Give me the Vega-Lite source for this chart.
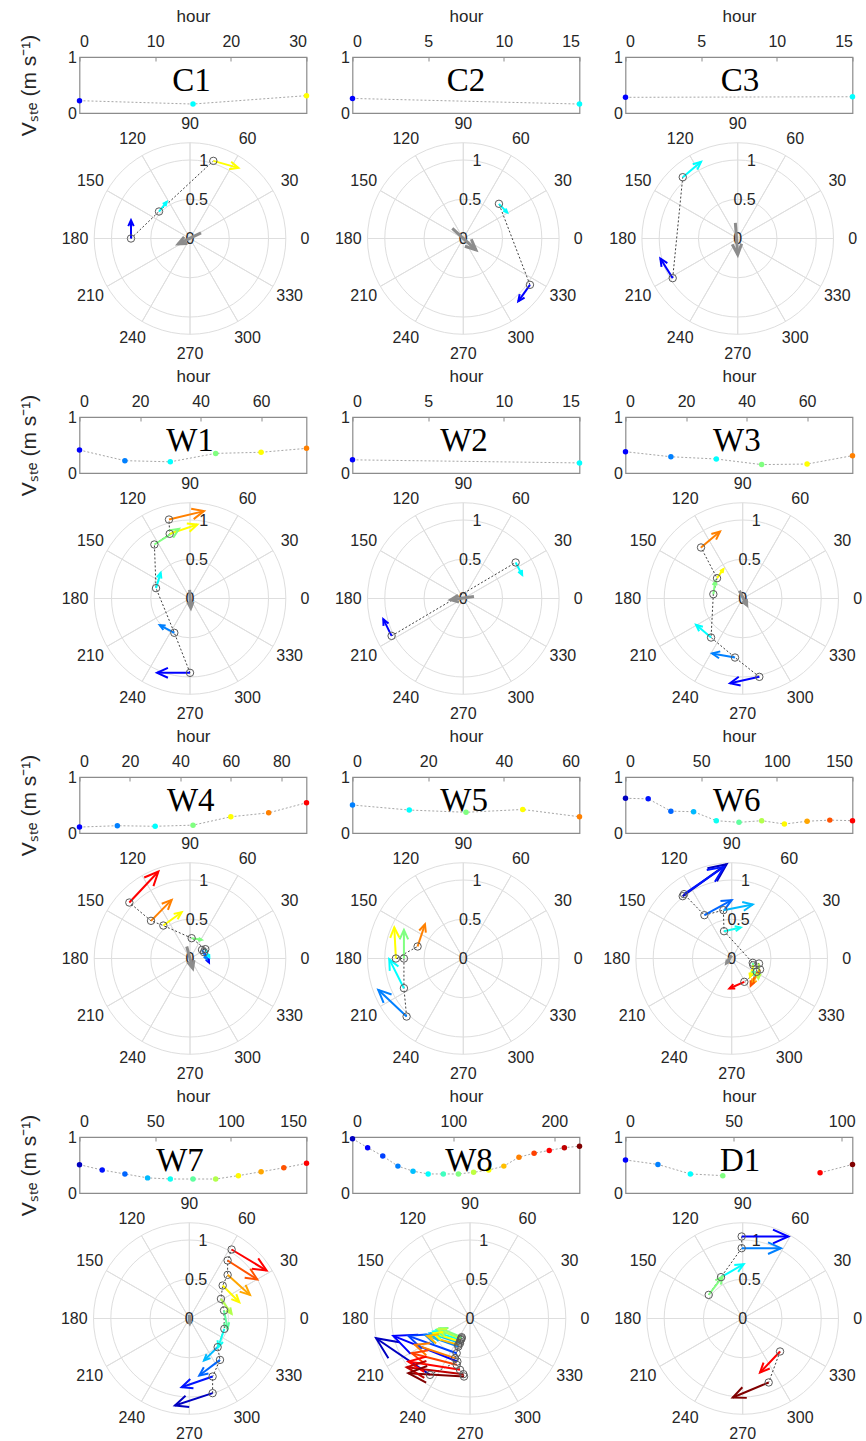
{
"$schema":"https://vega.github.io/schema/vega-lite/v6.json",
"background":"white",
"padding":{"left":17.5,"top":6,"right":0,"bottom":0},
"config":{"font":"Liberation Sans","view":{"stroke":null},"legend":{"disable":true},
"axis":{"domain":false,"grid":false,"labelFont":"Liberation Sans","labelFontSize":16,"labelColor":"#262626","titleFont":"Liberation Sans","titleFontSize":17,"titleFontWeight":"normal","titleColor":"#262626","tickColor":"#8c8c8c","tickSize":-4},
"axisX":{"labelPadding":12,"titlePadding":8},
"axisY":{"labelPadding":7},
"text":{"font":"Liberation Sans","fontSize":16,"color":"#262626"}},
"datasets":{
"deg":[{"d":0},{"d":30},{"d":60},{"d":90},{"d":120},{"d":150},{"d":180},{"d":210},{"d":240},{"d":270},{"d":300},{"d":330}],
"ring":[{"r":0.5},{"r":1},{"r":1.22}],
"rlab":[{"r":0,"t":"0"},{"r":0.5,"t":"0.5"},{"r":1,"t":"1"}],
"C1":[{"h":0,"v":0.22,"c":2,"x":-0.752,"y":0,"x2":-0.752,"y2":0.234,"dir":90,"m":0.234},{"h":15,"v":0.16,"c":6,"x":-0.395,"y":0.344,"x2":-0.297,"y2":0.467,"dir":51.5,"m":0.157},{"h":30,"v":0.31,"c":10,"x":0.297,"y":0.989,"x2":0.616,"y2":0.9,"dir":344.4,"m":0.331}],
"C2":[{"h":0,"v":0.26,"c":2,"x":0.849,"y":-0.59,"x2":0.7,"y2":-0.8,"dir":234.6,"m":0.257},{"h":15,"v":0.16,"c":6,"x":0.454,"y":0.442,"x2":0.56,"y2":0.33,"dir":313.4,"m":0.154}],
"C3":[{"h":0,"v":0.28,"c":2,"x":-0.828,"y":-0.505,"x2":-0.985,"y2":-0.255,"dir":122.1,"m":0.295},{"h":15,"v":0.29,"c":6,"x":-0.7,"y":0.781,"x2":-0.467,"y2":0.977,"dir":40.1,"m":0.304}],
"W1":[{"h":0,"v":0.41,"c":2,"x":0,"y":-0.947,"x2":-0.42,"y2":-0.947,"dir":180,"m":0.42},{"h":15,"v":0.22,"c":4,"x":-0.2,"y":-0.437,"x2":-0.386,"y2":-0.34,"dir":152.5,"m":0.21},{"h":30,"v":0.2,"c":6,"x":-0.433,"y":0.132,"x2":-0.374,"y2":0.327,"dir":73.2,"m":0.204},{"h":45,"v":0.35,"c":8,"x":-0.454,"y":0.688,"x2":-0.14,"y2":0.887,"dir":32.4,"m":0.372},{"h":60,"v":0.37,"c":10,"x":-0.259,"y":0.824,"x2":0.093,"y2":0.943,"dir":18.7,"m":0.372},{"h":75,"v":0.44,"c":12,"x":-0.268,"y":1.006,"x2":0.178,"y2":1.113,"dir":13.5,"m":0.459}],
"W2":[{"h":0,"v":0.235,"c":2,"x":-0.913,"y":-0.476,"x2":-1.019,"y2":-0.263,"dir":116.5,"m":0.238},{"h":15,"v":0.18,"c":6,"x":0.667,"y":0.459,"x2":0.75,"y2":0.3,"dir":297.6,"m":0.179}],
"W3":[{"h":0,"v":0.38,"c":2,"x":0.212,"y":-0.998,"x2":-0.161,"y2":-1.079,"dir":192.3,"m":0.382},{"h":15,"v":0.29,"c":4,"x":-0.098,"y":-0.752,"x2":-0.39,"y2":-0.7,"dir":169.9,"m":0.297},{"h":30,"v":0.25,"c":6,"x":-0.403,"y":-0.497,"x2":-0.594,"y2":-0.335,"dir":139.7,"m":0.25},{"h":45,"v":0.15,"c":8,"x":-0.374,"y":0.055,"x2":-0.348,"y2":0.225,"dir":81.3,"m":0.172},{"h":60,"v":0.16,"c":10,"x":-0.327,"y":0.259,"x2":-0.246,"y2":0.374,"dir":54.8,"m":0.141},{"h":75,"v":0.31,"c":12,"x":-0.531,"y":0.65,"x2":-0.289,"y2":0.854,"dir":40.1,"m":0.317}],
"W4":[{"h":0,"v":0.106,"c":2,"x":0.178,"y":0.081,"x2":0.242,"y2":-0.051,"dir":295.9,"m":0.147},{"h":15,"v":0.13,"c":4,"x":0.153,"y":0.11,"x2":0.212,"y2":-0.008,"dir":296.6,"m":0.132},{"h":30,"v":0.12,"c":6,"x":0.195,"y":0.119,"x2":0.246,"y2":0.017,"dir":296.6,"m":0.114},{"h":45,"v":0.14,"c":8,"x":0.021,"y":0.259,"x2":0.149,"y2":0.238,"dir":350.7,"m":0.13},{"h":60,"v":0.29,"c":10,"x":-0.34,"y":0.42,"x2":-0.106,"y2":0.59,"dir":36,"m":0.289},{"h":75,"v":0.36,"c":12,"x":-0.497,"y":0.48,"x2":-0.234,"y2":0.747,"dir":45.4,"m":0.375},{"h":90,"v":0.54,"c":14,"x":-0.773,"y":0.713,"x2":-0.403,"y2":1.108,"dir":46.9,"m":0.541}],
"W5":[{"h":0,"v":0.5,"c":4,"x":-0.722,"y":-0.739,"x2":-1.083,"y2":-0.399,"dir":136.7,"m":0.496},{"h":15,"v":0.41,"c":6,"x":-0.756,"y":-0.378,"x2":-0.943,"y2":-0.008,"dir":116.8,"m":0.415},{"h":30,"v":0.37,"c":8,"x":-0.756,"y":0,"x2":-0.756,"y2":0.365,"dir":90,"m":0.365},{"h":45,"v":0.42,"c":10,"x":-0.858,"y":0,"x2":-0.879,"y2":0.395,"dir":93,"m":0.396},{"h":60,"v":0.29,"c":12,"x":-0.582,"y":0.153,"x2":-0.488,"y2":0.437,"dir":71.7,"m":0.299}],
"W6":[{"h":0,"v":0.62,"c":1,"x":-0.624,"y":0.794,"x2":-0.064,"y2":1.202,"dir":36.1,"m":0.693},{"h":15,"v":0.61,"c":2.3,"x":-0.607,"y":0.82,"x2":-0.098,"y2":1.168,"dir":34.4,"m":0.617},{"h":30,"v":0.39,"c":3.6,"x":-0.348,"y":0.552,"x2":0,"y2":0.743,"dir":28.8,"m":0.397},{"h":45,"v":0.38,"c":4.9,"x":-0.106,"y":0.616,"x2":0.268,"y2":0.688,"dir":10.9,"m":0.381},{"h":60,"v":0.22,"c":6.2,"x":-0.098,"y":0.348,"x2":0.115,"y2":0.395,"dir":12.4,"m":0.218},{"h":75,"v":0.19,"c":7.5,"x":0.268,"y":-0.055,"x2":0.285,"y2":-0.212,"dir":276.2,"m":0.158},{"h":90,"v":0.22,"c":8.8,"x":0.348,"y":-0.064,"x2":0.34,"y2":-0.255,"dir":267.6,"m":0.191},{"h":105,"v":0.16,"c":10.1,"x":0.276,"y":-0.085,"x2":0.234,"y2":-0.234,"dir":254.3,"m":0.155},{"h":120,"v":0.21,"c":11.4,"x":0.361,"y":-0.14,"x2":0.255,"y2":-0.331,"dir":241,"m":0.218},{"h":135,"v":0.23,"c":12.7,"x":0.318,"y":-0.17,"x2":0.242,"y2":-0.348,"dir":246.9,"m":0.194},{"h":150,"v":0.22,"c":14,"x":0.161,"y":-0.297,"x2":-0.03,"y2":-0.382,"dir":204,"m":0.209}],
"W7":[{"h":0,"v":0.506,"c":1,"x":0.297,"y":-0.951,"x2":-0.183,"y2":-1.108,"dir":198.1,"m":0.505},{"h":15,"v":0.41,"c":2.3,"x":0.297,"y":-0.739,"x2":-0.098,"y2":-0.875,"dir":199,"m":0.418},{"h":30,"v":0.34,"c":3.6,"x":0.391,"y":-0.527,"x2":0.127,"y2":-0.726,"dir":217,"m":0.331},{"h":45,"v":0.27,"c":4.9,"x":0.361,"y":-0.365,"x2":0.187,"y2":-0.535,"dir":224.3,"m":0.243},{"h":60,"v":0.25,"c":6.2,"x":0.446,"y":-0.132,"x2":0.369,"y2":-0.365,"dir":251.7,"m":0.245},{"h":75,"v":0.25,"c":7.5,"x":0.442,"y":0.102,"x2":0.488,"y2":-0.132,"dir":281.1,"m":0.238},{"h":90,"v":0.25,"c":8.8,"x":0.403,"y":0.25,"x2":0.539,"y2":0.059,"dir":305.5,"m":0.234},{"h":105,"v":0.31,"c":10.1,"x":0.425,"y":0.42,"x2":0.637,"y2":0.208,"dir":315,"m":0.3},{"h":120,"v":0.38,"c":11.4,"x":0.488,"y":0.556,"x2":0.773,"y2":0.301,"dir":318.2,"m":0.382},{"h":135,"v":0.45,"c":12.7,"x":0.488,"y":0.739,"x2":0.866,"y2":0.497,"dir":327.4,"m":0.449},{"h":150,"v":0.53,"c":14,"x":0.539,"y":0.879,"x2":0.985,"y2":0.611,"dir":329,"m":0.52}],
"W8":[{"h":0,"v":0.97,"c":1,"x":-0.51,"y":-0.718,"x2":-1.197,"y2":-0.251,"dir":145.8,"m":0.831},{"h":15,"v":0.81,"c":2,"x":-0.161,"y":-0.548,"x2":-0.977,"y2":-0.221,"dir":158.2,"m":0.879},{"h":30,"v":0.66,"c":3,"x":-0.17,"y":-0.442,"x2":-0.786,"y2":-0.221,"dir":160.3,"m":0.654},{"h":45,"v":0.48,"c":4,"x":-0.149,"y":-0.357,"x2":-0.573,"y2":-0.208,"dir":160.6,"m":0.449},{"h":60,"v":0.39,"c":5,"x":-0.127,"y":-0.314,"x2":-0.51,"y2":-0.187,"dir":161.7,"m":0.404},{"h":75,"v":0.34,"c":6,"x":-0.119,"y":-0.272,"x2":-0.467,"y2":-0.166,"dir":163.1,"m":0.364},{"h":90,"v":0.34,"c":7,"x":-0.106,"y":-0.251,"x2":-0.425,"y2":-0.144,"dir":161.5,"m":0.336},{"h":105,"v":0.34,"c":8,"x":-0.106,"y":-0.238,"x2":-0.382,"y2":-0.123,"dir":157.4,"m":0.299},{"h":120,"v":0.37,"c":9,"x":-0.115,"y":-0.263,"x2":-0.403,"y2":-0.136,"dir":156.2,"m":0.315},{"h":135,"v":0.41,"c":10,"x":-0.127,"y":-0.293,"x2":-0.467,"y2":-0.187,"dir":162.7,"m":0.356},{"h":150,"v":0.48,"c":11,"x":-0.149,"y":-0.335,"x2":-0.544,"y2":-0.221,"dir":163.9,"m":0.411},{"h":165,"v":0.64,"c":12,"x":-0.191,"y":-0.505,"x2":-0.701,"y2":-0.335,"dir":161.6,"m":0.538},{"h":180,"v":0.71,"c":13,"x":-0.17,"y":-0.59,"x2":-0.743,"y2":-0.442,"dir":165.5,"m":0.592},{"h":195,"v":0.76,"c":14,"x":-0.127,"y":-0.654,"x2":-0.786,"y2":-0.548,"dir":170.9,"m":0.667},{"h":210,"v":0.81,"c":15,"x":-0.085,"y":-0.709,"x2":-0.807,"y2":-0.62,"dir":173,"m":0.727},{"h":225,"v":0.835,"c":16,"x":-0.076,"y":-0.739,"x2":-0.786,"y2":-0.696,"dir":176.5,"m":0.711}],
"D1":[{"h":0,"v":0.59,"c":2,"x":-0.013,"y":1.045,"x2":0.582,"y2":1.045,"dir":0,"m":0.595},{"h":15,"v":0.51,"c":4,"x":-0.013,"y":0.896,"x2":0.488,"y2":0.896,"dir":0,"m":0.501},{"h":30,"v":0.34,"c":6,"x":-0.276,"y":0.527,"x2":0.013,"y2":0.692,"dir":29.7,"m":0.333},{"h":45,"v":0.31,"c":8,"x":-0.433,"y":0.301,"x2":-0.255,"y2":0.535,"dir":52.7,"m":0.294},{"h":60,"v":null,"c":null,"x":null,"y":null,"x2":null,"y2":null,"dir":null,"m":null},{"h":75,"v":null,"c":null,"x":null,"y":null,"x2":null,"y2":null,"dir":null,"m":null},{"h":90,"v":0.36,"c":14,"x":0.476,"y":-0.42,"x2":0.221,"y2":-0.688,"dir":226.4,"m":0.37},{"h":105,"v":0.51,"c":16,"x":0.331,"y":-0.815,"x2":-0.127,"y2":-1.006,"dir":202.6,"m":0.496}]
},
"columns":3,"align":"each","bounds":"flush","spacing":{"row":8,"column":46},
"concat":[
{"width":227,"height":56,"view":{"stroke":"#8c8c8c","strokeWidth":1.2},"data":{"name":"C1"},"layer":[{"mark":{"type":"line","color":"#a6a6a6","strokeDash":[2,2],"strokeWidth":1,"invalid":"break-paths-filter-domains"},"encoding":{"x":{"field":"h","type":"quantitative","scale":{"domain":[0,30],"nice":false,"zero":false},"axis":{"orient":"top","title":"hour","tickCount":3}},"y":{"field":"v","type":"quantitative","scale":{"domain":[0,1],"nice":false},"axis":{"values":[0,0.5,1],"format":"~g","title":"Vₛₜₑ (m s⁻¹)","titleFontSize":21,"titlePadding":28}}}},{"mark":{"type":"point","filled":true,"size":30,"opacity":1},"encoding":{"x":{"field":"h","type":"quantitative"},"y":{"field":"v","type":"quantitative"},"color":{"field":"c","type":"quantitative","scale":{"type":"linear","domain":[0,2,6,10,14,16],"range":["#000080","#0000ff","#00ffff","#ffff00","#ff0000","#800000"],"interpolate":"rgb"}}}},{"data":{"values":[{"t":"C1"}]},"mark":{"type":"text","font":"Liberation Serif","fontSize":33,"baseline":"alphabetic","color":"#000000"},"encoding":{"x":{"datum":14.8},"y":{"datum":0.39},"text":{"field":"t"}}}]},
{"width":227,"height":56,"view":{"stroke":"#8c8c8c","strokeWidth":1.2},"data":{"name":"C2"},"layer":[{"mark":{"type":"line","color":"#a6a6a6","strokeDash":[2,2],"strokeWidth":1,"invalid":"break-paths-filter-domains"},"encoding":{"x":{"field":"h","type":"quantitative","scale":{"domain":[0,15],"nice":false,"zero":false},"axis":{"orient":"top","title":"hour","tickCount":3}},"y":{"field":"v","type":"quantitative","scale":{"domain":[0,1],"nice":false},"axis":{"values":[0,0.5,1],"format":"~g","title":null}}}},{"mark":{"type":"point","filled":true,"size":30,"opacity":1},"encoding":{"x":{"field":"h","type":"quantitative"},"y":{"field":"v","type":"quantitative"},"color":{"field":"c","type":"quantitative","scale":{"type":"linear","domain":[0,2,6,10,14,16],"range":["#000080","#0000ff","#00ffff","#ffff00","#ff0000","#800000"],"interpolate":"rgb"}}}},{"data":{"values":[{"t":"C2"}]},"mark":{"type":"text","font":"Liberation Serif","fontSize":33,"baseline":"alphabetic","color":"#000000"},"encoding":{"x":{"datum":7.5},"y":{"datum":0.39},"text":{"field":"t"}}}]},
{"width":227,"height":56,"view":{"stroke":"#8c8c8c","strokeWidth":1.2},"data":{"name":"C3"},"layer":[{"mark":{"type":"line","color":"#a6a6a6","strokeDash":[2,2],"strokeWidth":1,"invalid":"break-paths-filter-domains"},"encoding":{"x":{"field":"h","type":"quantitative","scale":{"domain":[0,15],"nice":false,"zero":false},"axis":{"orient":"top","title":"hour","tickCount":3}},"y":{"field":"v","type":"quantitative","scale":{"domain":[0,1],"nice":false},"axis":{"values":[0,0.5,1],"format":"~g","title":null}}}},{"mark":{"type":"point","filled":true,"size":30,"opacity":1},"encoding":{"x":{"field":"h","type":"quantitative"},"y":{"field":"v","type":"quantitative"},"color":{"field":"c","type":"quantitative","scale":{"type":"linear","domain":[0,2,6,10,14,16],"range":["#000080","#0000ff","#00ffff","#ffff00","#ff0000","#800000"],"interpolate":"rgb"}}}},{"data":{"values":[{"t":"C3"}]},"mark":{"type":"text","font":"Liberation Serif","fontSize":33,"baseline":"alphabetic","color":"#000000"},"encoding":{"x":{"datum":7.57},"y":{"datum":0.39},"text":{"field":"t"}}}]},
{"width":227,"height":288,"layer":[
{"data":{"name":"deg"},"mark":{"type":"arc","filled":false,"color":"#dedede","strokeWidth":1},"encoding":{"x":{"datum":0,"type":"quantitative","scale":{"domain":[-1.408,1.484],"nice":false,"zero":false},"axis":null},"y":{"datum":0,"type":"quantitative","scale":{"domain":[-2.172,1.497],"nice":false,"zero":false},"axis":null},"theta":{"field":"d","type":"quantitative","scale":{"domain":[0,360],"range":[1.5707963267948966,-4.71238898038469]},"stack":false},"theta2":{"field":"d"},"radius":{"datum":1.22,"type":"quantitative","scale":{"type":"linear","domain":[0,1.22],"range":[0,95.77]},"stack":false}}},
{"data":{"name":"ring"},"mark":{"type":"arc","filled":false,"color":"#dedede","strokeWidth":1,"theta":0,"theta2":6.283185307179586},"encoding":{"x":{"datum":0,"type":"quantitative","axis":null},"y":{"datum":0,"type":"quantitative","axis":null},"radius":{"field":"r","type":"quantitative","scale":{"type":"linear","domain":[0,1.22],"range":[0,95.77]},"stack":false}}},
{"data":{"name":"deg"},"mark":{"type":"text","radius":115},"encoding":{"x":{"datum":0,"type":"quantitative","axis":null},"y":{"datum":0,"type":"quantitative","axis":null},"theta":{"field":"d","type":"quantitative","scale":{"domain":[0,360],"range":[1.5707963267948966,-4.71238898038469]},"stack":false},"text":{"field":"d","type":"nominal"}}},
{"data":{"name":"rlab"},"mark":{"type":"text","theta":0.1745},"encoding":{"x":{"datum":0,"type":"quantitative","axis":null},"y":{"datum":0,"type":"quantitative","axis":null},"radius":{"field":"r","type":"quantitative","scale":{"type":"linear","domain":[0,1.22],"range":[0,95.77]},"stack":false},"text":{"field":"t","type":"nominal"}}},
{"data":{"name":"C1"},"mark":{"type":"line","color":"#404040","strokeDash":[2,2],"strokeWidth":1,"invalid":"break-paths-filter-domains"},"encoding":{"x":{"field":"x","type":"quantitative","axis":null},"y":{"field":"y","type":"quantitative","axis":null},"order":{"field":"h","type":"quantitative"}}},
{"data":{"name":"C1"},"mark":{"type":"rule","strokeWidth":2},"encoding":{"x":{"field":"x","type":"quantitative","axis":null},"y":{"field":"y","type":"quantitative","axis":null},"x2":{"field":"x2"},"y2":{"field":"y2"},"color":{"field":"c","type":"quantitative","scale":{"type":"linear","domain":[0,2,6,10,14,16],"range":["#000080","#0000ff","#00ffff","#ffff00","#ff0000","#800000"],"interpolate":"rgb"}}}},
{"data":{"name":"C1"},"mark":{"type":"point","shape":"M-1,-0.45L0,0L-1,0.45","filled":false,"strokeWidth":2,"opacity":1},"encoding":{"x":{"field":"x2","type":"quantitative","axis":null},"y":{"field":"y2","type":"quantitative","axis":null},"angle":{"field":"dir","type":"quantitative","scale":{"domain":[0,360],"range":[360,0]}},"size":{"field":"m","type":"quantitative","scale":{"type":"pow","exponent":2,"domain":[0,1],"range":[0,2683]}},"color":{"field":"c","type":"quantitative","scale":{"type":"linear","domain":[0,2,6,10,14,16],"range":["#000080","#0000ff","#00ffff","#ffff00","#ff0000","#800000"],"interpolate":"rgb"}}}},
{"data":{"name":"C1"},"mark":{"type":"point","filled":false,"size":55,"color":"#595959","strokeWidth":1,"opacity":1},"encoding":{"x":{"field":"x","type":"quantitative","axis":null},"y":{"field":"y","type":"quantitative","axis":null}}},
{"data":{"values":[{"x":0.14,"y":0.072,"x2":-0.149,"y2":-0.068,"dir":205.8,"m":0.321}]},"mark":{"type":"rule","strokeWidth":3,"color":"#8c8c8c"},"encoding":{"x":{"field":"x","type":"quantitative","axis":null},"y":{"field":"y","type":"quantitative","axis":null},"x2":{"field":"x2"},"y2":{"field":"y2"}}},
{"data":{"values":[{"x":0.14,"y":0.072,"x2":-0.149,"y2":-0.068,"dir":205.8,"m":0.321}]},"mark":{"type":"point","shape":"M-1,-0.45L0,0L-1,0.45","filled":false,"strokeWidth":3,"color":"#8c8c8c","opacity":1},"encoding":{"x":{"field":"x2","type":"quantitative","axis":null},"y":{"field":"y2","type":"quantitative","axis":null},"angle":{"field":"dir","type":"quantitative","scale":{"domain":[0,360],"range":[360,0]}},"size":{"field":"m","type":"quantitative","scale":{"type":"pow","exponent":2,"domain":[0,1],"range":[0,2683]}}}}
]},
{"width":227,"height":288,"layer":[
{"data":{"name":"deg"},"mark":{"type":"arc","filled":false,"color":"#dedede","strokeWidth":1},"encoding":{"x":{"datum":0,"type":"quantitative","scale":{"domain":[-1.411,1.48],"nice":false,"zero":false},"axis":null},"y":{"datum":0,"type":"quantitative","scale":{"domain":[-2.172,1.497],"nice":false,"zero":false},"axis":null},"theta":{"field":"d","type":"quantitative","scale":{"domain":[0,360],"range":[1.5707963267948966,-4.71238898038469]},"stack":false},"theta2":{"field":"d"},"radius":{"datum":1.22,"type":"quantitative","scale":{"type":"linear","domain":[0,1.22],"range":[0,95.77]},"stack":false}}},
{"data":{"name":"ring"},"mark":{"type":"arc","filled":false,"color":"#dedede","strokeWidth":1,"theta":0,"theta2":6.283185307179586},"encoding":{"x":{"datum":0,"type":"quantitative","axis":null},"y":{"datum":0,"type":"quantitative","axis":null},"radius":{"field":"r","type":"quantitative","scale":{"type":"linear","domain":[0,1.22],"range":[0,95.77]},"stack":false}}},
{"data":{"name":"deg"},"mark":{"type":"text","radius":115},"encoding":{"x":{"datum":0,"type":"quantitative","axis":null},"y":{"datum":0,"type":"quantitative","axis":null},"theta":{"field":"d","type":"quantitative","scale":{"domain":[0,360],"range":[1.5707963267948966,-4.71238898038469]},"stack":false},"text":{"field":"d","type":"nominal"}}},
{"data":{"name":"rlab"},"mark":{"type":"text","theta":0.1745},"encoding":{"x":{"datum":0,"type":"quantitative","axis":null},"y":{"datum":0,"type":"quantitative","axis":null},"radius":{"field":"r","type":"quantitative","scale":{"type":"linear","domain":[0,1.22],"range":[0,95.77]},"stack":false},"text":{"field":"t","type":"nominal"}}},
{"data":{"name":"C2"},"mark":{"type":"line","color":"#404040","strokeDash":[2,2],"strokeWidth":1,"invalid":"break-paths-filter-domains"},"encoding":{"x":{"field":"x","type":"quantitative","axis":null},"y":{"field":"y","type":"quantitative","axis":null},"order":{"field":"h","type":"quantitative"}}},
{"data":{"name":"C2"},"mark":{"type":"rule","strokeWidth":2},"encoding":{"x":{"field":"x","type":"quantitative","axis":null},"y":{"field":"y","type":"quantitative","axis":null},"x2":{"field":"x2"},"y2":{"field":"y2"},"color":{"field":"c","type":"quantitative","scale":{"type":"linear","domain":[0,2,6,10,14,16],"range":["#000080","#0000ff","#00ffff","#ffff00","#ff0000","#800000"],"interpolate":"rgb"}}}},
{"data":{"name":"C2"},"mark":{"type":"point","shape":"M-1,-0.45L0,0L-1,0.45","filled":false,"strokeWidth":2,"opacity":1},"encoding":{"x":{"field":"x2","type":"quantitative","axis":null},"y":{"field":"y2","type":"quantitative","axis":null},"angle":{"field":"dir","type":"quantitative","scale":{"domain":[0,360],"range":[360,0]}},"size":{"field":"m","type":"quantitative","scale":{"type":"pow","exponent":2,"domain":[0,1],"range":[0,2683]}},"color":{"field":"c","type":"quantitative","scale":{"type":"linear","domain":[0,2,6,10,14,16],"range":["#000080","#0000ff","#00ffff","#ffff00","#ff0000","#800000"],"interpolate":"rgb"}}}},
{"data":{"name":"C2"},"mark":{"type":"point","filled":false,"size":55,"color":"#595959","strokeWidth":1,"opacity":1},"encoding":{"x":{"field":"x","type":"quantitative","axis":null},"y":{"field":"y","type":"quantitative","axis":null}}},
{"data":{"values":[{"x":-0.14,"y":0.13,"x2":0.16,"y2":-0.144,"dir":317.6,"m":0.406}]},"mark":{"type":"rule","strokeWidth":3,"color":"#8c8c8c"},"encoding":{"x":{"field":"x","type":"quantitative","axis":null},"y":{"field":"y","type":"quantitative","axis":null},"x2":{"field":"x2"},"y2":{"field":"y2"}}},
{"data":{"values":[{"x":-0.14,"y":0.13,"x2":0.16,"y2":-0.144,"dir":317.6,"m":0.406}]},"mark":{"type":"point","shape":"M-1,-0.45L0,0L-1,0.45","filled":false,"strokeWidth":3,"color":"#8c8c8c","opacity":1},"encoding":{"x":{"field":"x2","type":"quantitative","axis":null},"y":{"field":"y2","type":"quantitative","axis":null},"angle":{"field":"dir","type":"quantitative","scale":{"domain":[0,360],"range":[360,0]}},"size":{"field":"m","type":"quantitative","scale":{"type":"pow","exponent":2,"domain":[0,1],"range":[0,2683]}}}}
]},
{"width":227,"height":288,"layer":[
{"data":{"name":"deg"},"mark":{"type":"arc","filled":false,"color":"#dedede","strokeWidth":1},"encoding":{"x":{"datum":0,"type":"quantitative","scale":{"domain":[-1.429,1.462],"nice":false,"zero":false},"axis":null},"y":{"datum":0,"type":"quantitative","scale":{"domain":[-2.172,1.497],"nice":false,"zero":false},"axis":null},"theta":{"field":"d","type":"quantitative","scale":{"domain":[0,360],"range":[1.5707963267948966,-4.71238898038469]},"stack":false},"theta2":{"field":"d"},"radius":{"datum":1.22,"type":"quantitative","scale":{"type":"linear","domain":[0,1.22],"range":[0,95.77]},"stack":false}}},
{"data":{"name":"ring"},"mark":{"type":"arc","filled":false,"color":"#dedede","strokeWidth":1,"theta":0,"theta2":6.283185307179586},"encoding":{"x":{"datum":0,"type":"quantitative","axis":null},"y":{"datum":0,"type":"quantitative","axis":null},"radius":{"field":"r","type":"quantitative","scale":{"type":"linear","domain":[0,1.22],"range":[0,95.77]},"stack":false}}},
{"data":{"name":"deg"},"mark":{"type":"text","radius":115},"encoding":{"x":{"datum":0,"type":"quantitative","axis":null},"y":{"datum":0,"type":"quantitative","axis":null},"theta":{"field":"d","type":"quantitative","scale":{"domain":[0,360],"range":[1.5707963267948966,-4.71238898038469]},"stack":false},"text":{"field":"d","type":"nominal"}}},
{"data":{"name":"rlab"},"mark":{"type":"text","theta":0.1745},"encoding":{"x":{"datum":0,"type":"quantitative","axis":null},"y":{"datum":0,"type":"quantitative","axis":null},"radius":{"field":"r","type":"quantitative","scale":{"type":"linear","domain":[0,1.22],"range":[0,95.77]},"stack":false},"text":{"field":"t","type":"nominal"}}},
{"data":{"name":"C3"},"mark":{"type":"line","color":"#404040","strokeDash":[2,2],"strokeWidth":1,"invalid":"break-paths-filter-domains"},"encoding":{"x":{"field":"x","type":"quantitative","axis":null},"y":{"field":"y","type":"quantitative","axis":null},"order":{"field":"h","type":"quantitative"}}},
{"data":{"name":"C3"},"mark":{"type":"rule","strokeWidth":2},"encoding":{"x":{"field":"x","type":"quantitative","axis":null},"y":{"field":"y","type":"quantitative","axis":null},"x2":{"field":"x2"},"y2":{"field":"y2"},"color":{"field":"c","type":"quantitative","scale":{"type":"linear","domain":[0,2,6,10,14,16],"range":["#000080","#0000ff","#00ffff","#ffff00","#ff0000","#800000"],"interpolate":"rgb"}}}},
{"data":{"name":"C3"},"mark":{"type":"point","shape":"M-1,-0.45L0,0L-1,0.45","filled":false,"strokeWidth":2,"opacity":1},"encoding":{"x":{"field":"x2","type":"quantitative","axis":null},"y":{"field":"y2","type":"quantitative","axis":null},"angle":{"field":"dir","type":"quantitative","scale":{"domain":[0,360],"range":[360,0]}},"size":{"field":"m","type":"quantitative","scale":{"type":"pow","exponent":2,"domain":[0,1],"range":[0,2683]}},"color":{"field":"c","type":"quantitative","scale":{"type":"linear","domain":[0,2,6,10,14,16],"range":["#000080","#0000ff","#00ffff","#ffff00","#ff0000","#800000"],"interpolate":"rgb"}}}},
{"data":{"name":"C3"},"mark":{"type":"point","filled":false,"size":55,"color":"#595959","strokeWidth":1,"opacity":1},"encoding":{"x":{"field":"x","type":"quantitative","axis":null},"y":{"field":"y","type":"quantitative","axis":null}}},
{"data":{"values":[{"x":-0.03,"y":0.2,"x2":0,"y2":-0.204,"dir":274.2,"m":0.405}]},"mark":{"type":"rule","strokeWidth":3,"color":"#8c8c8c"},"encoding":{"x":{"field":"x","type":"quantitative","axis":null},"y":{"field":"y","type":"quantitative","axis":null},"x2":{"field":"x2"},"y2":{"field":"y2"}}},
{"data":{"values":[{"x":-0.03,"y":0.2,"x2":0,"y2":-0.204,"dir":274.2,"m":0.405}]},"mark":{"type":"point","shape":"M-1,-0.45L0,0L-1,0.45","filled":false,"strokeWidth":3,"color":"#8c8c8c","opacity":1},"encoding":{"x":{"field":"x2","type":"quantitative","axis":null},"y":{"field":"y2","type":"quantitative","axis":null},"angle":{"field":"dir","type":"quantitative","scale":{"domain":[0,360],"range":[360,0]}},"size":{"field":"m","type":"quantitative","scale":{"type":"pow","exponent":2,"domain":[0,1],"range":[0,2683]}}}}
]},
{"width":227,"height":56,"view":{"stroke":"#8c8c8c","strokeWidth":1.2},"data":{"name":"W1"},"layer":[{"mark":{"type":"line","color":"#a6a6a6","strokeDash":[2,2],"strokeWidth":1,"invalid":"break-paths-filter-domains"},"encoding":{"x":{"field":"h","type":"quantitative","scale":{"domain":[0,75],"nice":false,"zero":false},"axis":{"orient":"top","title":"hour","tickCount":3}},"y":{"field":"v","type":"quantitative","scale":{"domain":[0,1],"nice":false},"axis":{"values":[0,0.5,1],"format":"~g","title":"Vₛₜₑ (m s⁻¹)","titleFontSize":21,"titlePadding":28}}}},{"mark":{"type":"point","filled":true,"size":30,"opacity":1},"encoding":{"x":{"field":"h","type":"quantitative"},"y":{"field":"v","type":"quantitative"},"color":{"field":"c","type":"quantitative","scale":{"type":"linear","domain":[0,2,6,10,14,16],"range":["#000080","#0000ff","#00ffff","#ffff00","#ff0000","#800000"],"interpolate":"rgb"}}}},{"data":{"values":[{"t":"W1"}]},"mark":{"type":"text","font":"Liberation Serif","fontSize":33,"baseline":"alphabetic","color":"#000000"},"encoding":{"x":{"datum":36.5},"y":{"datum":0.39},"text":{"field":"t"}}}]},
{"width":227,"height":56,"view":{"stroke":"#8c8c8c","strokeWidth":1.2},"data":{"name":"W2"},"layer":[{"mark":{"type":"line","color":"#a6a6a6","strokeDash":[2,2],"strokeWidth":1,"invalid":"break-paths-filter-domains"},"encoding":{"x":{"field":"h","type":"quantitative","scale":{"domain":[0,15],"nice":false,"zero":false},"axis":{"orient":"top","title":"hour","tickCount":3}},"y":{"field":"v","type":"quantitative","scale":{"domain":[0,1],"nice":false},"axis":{"values":[0,0.5,1],"format":"~g","title":null}}}},{"mark":{"type":"point","filled":true,"size":30,"opacity":1},"encoding":{"x":{"field":"h","type":"quantitative"},"y":{"field":"v","type":"quantitative"},"color":{"field":"c","type":"quantitative","scale":{"type":"linear","domain":[0,2,6,10,14,16],"range":["#000080","#0000ff","#00ffff","#ffff00","#ff0000","#800000"],"interpolate":"rgb"}}}},{"data":{"values":[{"t":"W2"}]},"mark":{"type":"text","font":"Liberation Serif","fontSize":33,"baseline":"alphabetic","color":"#000000"},"encoding":{"x":{"datum":7.37},"y":{"datum":0.39},"text":{"field":"t"}}}]},
{"width":227,"height":56,"view":{"stroke":"#8c8c8c","strokeWidth":1.2},"data":{"name":"W3"},"layer":[{"mark":{"type":"line","color":"#a6a6a6","strokeDash":[2,2],"strokeWidth":1,"invalid":"break-paths-filter-domains"},"encoding":{"x":{"field":"h","type":"quantitative","scale":{"domain":[0,75],"nice":false,"zero":false},"axis":{"orient":"top","title":"hour","tickCount":3}},"y":{"field":"v","type":"quantitative","scale":{"domain":[0,1],"nice":false},"axis":{"values":[0,0.5,1],"format":"~g","title":null}}}},{"mark":{"type":"point","filled":true,"size":30,"opacity":1},"encoding":{"x":{"field":"h","type":"quantitative"},"y":{"field":"v","type":"quantitative"},"color":{"field":"c","type":"quantitative","scale":{"type":"linear","domain":[0,2,6,10,14,16],"range":["#000080","#0000ff","#00ffff","#ffff00","#ff0000","#800000"],"interpolate":"rgb"}}}},{"data":{"values":[{"t":"W3"}]},"mark":{"type":"text","font":"Liberation Serif","fontSize":33,"baseline":"alphabetic","color":"#000000"},"encoding":{"x":{"datum":36.8},"y":{"datum":0.39},"text":{"field":"t"}}}]},
{"width":227,"height":288,"layer":[
{"data":{"name":"deg"},"mark":{"type":"arc","filled":false,"color":"#dedede","strokeWidth":1},"encoding":{"x":{"datum":0,"type":"quantitative","scale":{"domain":[-1.408,1.484],"nice":false,"zero":false},"axis":null},"y":{"datum":0,"type":"quantitative","scale":{"domain":[-2.172,1.497],"nice":false,"zero":false},"axis":null},"theta":{"field":"d","type":"quantitative","scale":{"domain":[0,360],"range":[1.5707963267948966,-4.71238898038469]},"stack":false},"theta2":{"field":"d"},"radius":{"datum":1.22,"type":"quantitative","scale":{"type":"linear","domain":[0,1.22],"range":[0,95.77]},"stack":false}}},
{"data":{"name":"ring"},"mark":{"type":"arc","filled":false,"color":"#dedede","strokeWidth":1,"theta":0,"theta2":6.283185307179586},"encoding":{"x":{"datum":0,"type":"quantitative","axis":null},"y":{"datum":0,"type":"quantitative","axis":null},"radius":{"field":"r","type":"quantitative","scale":{"type":"linear","domain":[0,1.22],"range":[0,95.77]},"stack":false}}},
{"data":{"name":"deg"},"mark":{"type":"text","radius":115},"encoding":{"x":{"datum":0,"type":"quantitative","axis":null},"y":{"datum":0,"type":"quantitative","axis":null},"theta":{"field":"d","type":"quantitative","scale":{"domain":[0,360],"range":[1.5707963267948966,-4.71238898038469]},"stack":false},"text":{"field":"d","type":"nominal"}}},
{"data":{"name":"rlab"},"mark":{"type":"text","theta":0.1745},"encoding":{"x":{"datum":0,"type":"quantitative","axis":null},"y":{"datum":0,"type":"quantitative","axis":null},"radius":{"field":"r","type":"quantitative","scale":{"type":"linear","domain":[0,1.22],"range":[0,95.77]},"stack":false},"text":{"field":"t","type":"nominal"}}},
{"data":{"name":"W1"},"mark":{"type":"line","color":"#404040","strokeDash":[2,2],"strokeWidth":1,"invalid":"break-paths-filter-domains"},"encoding":{"x":{"field":"x","type":"quantitative","axis":null},"y":{"field":"y","type":"quantitative","axis":null},"order":{"field":"h","type":"quantitative"}}},
{"data":{"name":"W1"},"mark":{"type":"rule","strokeWidth":2},"encoding":{"x":{"field":"x","type":"quantitative","axis":null},"y":{"field":"y","type":"quantitative","axis":null},"x2":{"field":"x2"},"y2":{"field":"y2"},"color":{"field":"c","type":"quantitative","scale":{"type":"linear","domain":[0,2,6,10,14,16],"range":["#000080","#0000ff","#00ffff","#ffff00","#ff0000","#800000"],"interpolate":"rgb"}}}},
{"data":{"name":"W1"},"mark":{"type":"point","shape":"M-1,-0.45L0,0L-1,0.45","filled":false,"strokeWidth":2,"opacity":1},"encoding":{"x":{"field":"x2","type":"quantitative","axis":null},"y":{"field":"y2","type":"quantitative","axis":null},"angle":{"field":"dir","type":"quantitative","scale":{"domain":[0,360],"range":[360,0]}},"size":{"field":"m","type":"quantitative","scale":{"type":"pow","exponent":2,"domain":[0,1],"range":[0,2683]}},"color":{"field":"c","type":"quantitative","scale":{"type":"linear","domain":[0,2,6,10,14,16],"range":["#000080","#0000ff","#00ffff","#ffff00","#ff0000","#800000"],"interpolate":"rgb"}}}},
{"data":{"name":"W1"},"mark":{"type":"point","filled":false,"size":55,"color":"#595959","strokeWidth":1,"opacity":1},"encoding":{"x":{"field":"x","type":"quantitative","axis":null},"y":{"field":"y","type":"quantitative","axis":null}}},
{"data":{"values":[{"x":-0.005,"y":0.11,"x2":0.01,"y2":-0.12,"dir":273.7,"m":0.23}]},"mark":{"type":"rule","strokeWidth":3,"color":"#8c8c8c"},"encoding":{"x":{"field":"x","type":"quantitative","axis":null},"y":{"field":"y","type":"quantitative","axis":null},"x2":{"field":"x2"},"y2":{"field":"y2"}}},
{"data":{"values":[{"x":-0.005,"y":0.11,"x2":0.01,"y2":-0.12,"dir":273.7,"m":0.23}]},"mark":{"type":"point","shape":"M-1,-0.45L0,0L-1,0.45","filled":false,"strokeWidth":3,"color":"#8c8c8c","opacity":1},"encoding":{"x":{"field":"x2","type":"quantitative","axis":null},"y":{"field":"y2","type":"quantitative","axis":null},"angle":{"field":"dir","type":"quantitative","scale":{"domain":[0,360],"range":[360,0]}},"size":{"field":"m","type":"quantitative","scale":{"type":"pow","exponent":2,"domain":[0,1],"range":[0,2683]}}}}
]},
{"width":227,"height":288,"layer":[
{"data":{"name":"deg"},"mark":{"type":"arc","filled":false,"color":"#dedede","strokeWidth":1},"encoding":{"x":{"datum":0,"type":"quantitative","scale":{"domain":[-1.411,1.48],"nice":false,"zero":false},"axis":null},"y":{"datum":0,"type":"quantitative","scale":{"domain":[-2.172,1.497],"nice":false,"zero":false},"axis":null},"theta":{"field":"d","type":"quantitative","scale":{"domain":[0,360],"range":[1.5707963267948966,-4.71238898038469]},"stack":false},"theta2":{"field":"d"},"radius":{"datum":1.22,"type":"quantitative","scale":{"type":"linear","domain":[0,1.22],"range":[0,95.77]},"stack":false}}},
{"data":{"name":"ring"},"mark":{"type":"arc","filled":false,"color":"#dedede","strokeWidth":1,"theta":0,"theta2":6.283185307179586},"encoding":{"x":{"datum":0,"type":"quantitative","axis":null},"y":{"datum":0,"type":"quantitative","axis":null},"radius":{"field":"r","type":"quantitative","scale":{"type":"linear","domain":[0,1.22],"range":[0,95.77]},"stack":false}}},
{"data":{"name":"deg"},"mark":{"type":"text","radius":115},"encoding":{"x":{"datum":0,"type":"quantitative","axis":null},"y":{"datum":0,"type":"quantitative","axis":null},"theta":{"field":"d","type":"quantitative","scale":{"domain":[0,360],"range":[1.5707963267948966,-4.71238898038469]},"stack":false},"text":{"field":"d","type":"nominal"}}},
{"data":{"name":"rlab"},"mark":{"type":"text","theta":0.1745},"encoding":{"x":{"datum":0,"type":"quantitative","axis":null},"y":{"datum":0,"type":"quantitative","axis":null},"radius":{"field":"r","type":"quantitative","scale":{"type":"linear","domain":[0,1.22],"range":[0,95.77]},"stack":false},"text":{"field":"t","type":"nominal"}}},
{"data":{"name":"W2"},"mark":{"type":"line","color":"#404040","strokeDash":[2,2],"strokeWidth":1,"invalid":"break-paths-filter-domains"},"encoding":{"x":{"field":"x","type":"quantitative","axis":null},"y":{"field":"y","type":"quantitative","axis":null},"order":{"field":"h","type":"quantitative"}}},
{"data":{"name":"W2"},"mark":{"type":"rule","strokeWidth":2},"encoding":{"x":{"field":"x","type":"quantitative","axis":null},"y":{"field":"y","type":"quantitative","axis":null},"x2":{"field":"x2"},"y2":{"field":"y2"},"color":{"field":"c","type":"quantitative","scale":{"type":"linear","domain":[0,2,6,10,14,16],"range":["#000080","#0000ff","#00ffff","#ffff00","#ff0000","#800000"],"interpolate":"rgb"}}}},
{"data":{"name":"W2"},"mark":{"type":"point","shape":"M-1,-0.45L0,0L-1,0.45","filled":false,"strokeWidth":2,"opacity":1},"encoding":{"x":{"field":"x2","type":"quantitative","axis":null},"y":{"field":"y2","type":"quantitative","axis":null},"angle":{"field":"dir","type":"quantitative","scale":{"domain":[0,360],"range":[360,0]}},"size":{"field":"m","type":"quantitative","scale":{"type":"pow","exponent":2,"domain":[0,1],"range":[0,2683]}},"color":{"field":"c","type":"quantitative","scale":{"type":"linear","domain":[0,2,6,10,14,16],"range":["#000080","#0000ff","#00ffff","#ffff00","#ff0000","#800000"],"interpolate":"rgb"}}}},
{"data":{"name":"W2"},"mark":{"type":"point","filled":false,"size":55,"color":"#595959","strokeWidth":1,"opacity":1},"encoding":{"x":{"field":"x","type":"quantitative","axis":null},"y":{"field":"y","type":"quantitative","axis":null}}},
{"data":{"values":[{"x":0.136,"y":0.025,"x2":-0.157,"y2":-0.017,"dir":188.2,"m":0.296}]},"mark":{"type":"rule","strokeWidth":3,"color":"#8c8c8c"},"encoding":{"x":{"field":"x","type":"quantitative","axis":null},"y":{"field":"y","type":"quantitative","axis":null},"x2":{"field":"x2"},"y2":{"field":"y2"}}},
{"data":{"values":[{"x":0.136,"y":0.025,"x2":-0.157,"y2":-0.017,"dir":188.2,"m":0.296}]},"mark":{"type":"point","shape":"M-1,-0.45L0,0L-1,0.45","filled":false,"strokeWidth":3,"color":"#8c8c8c","opacity":1},"encoding":{"x":{"field":"x2","type":"quantitative","axis":null},"y":{"field":"y2","type":"quantitative","axis":null},"angle":{"field":"dir","type":"quantitative","scale":{"domain":[0,360],"range":[360,0]}},"size":{"field":"m","type":"quantitative","scale":{"type":"pow","exponent":2,"domain":[0,1],"range":[0,2683]}}}}
]},
{"width":227,"height":288,"layer":[
{"data":{"name":"deg"},"mark":{"type":"arc","filled":false,"color":"#dedede","strokeWidth":1},"encoding":{"x":{"datum":0,"type":"quantitative","scale":{"domain":[-1.493,1.399],"nice":false,"zero":false},"axis":null},"y":{"datum":0,"type":"quantitative","scale":{"domain":[-2.172,1.497],"nice":false,"zero":false},"axis":null},"theta":{"field":"d","type":"quantitative","scale":{"domain":[0,360],"range":[1.5707963267948966,-4.71238898038469]},"stack":false},"theta2":{"field":"d"},"radius":{"datum":1.22,"type":"quantitative","scale":{"type":"linear","domain":[0,1.22],"range":[0,95.77]},"stack":false}}},
{"data":{"name":"ring"},"mark":{"type":"arc","filled":false,"color":"#dedede","strokeWidth":1,"theta":0,"theta2":6.283185307179586},"encoding":{"x":{"datum":0,"type":"quantitative","axis":null},"y":{"datum":0,"type":"quantitative","axis":null},"radius":{"field":"r","type":"quantitative","scale":{"type":"linear","domain":[0,1.22],"range":[0,95.77]},"stack":false}}},
{"data":{"name":"deg"},"mark":{"type":"text","radius":115},"encoding":{"x":{"datum":0,"type":"quantitative","axis":null},"y":{"datum":0,"type":"quantitative","axis":null},"theta":{"field":"d","type":"quantitative","scale":{"domain":[0,360],"range":[1.5707963267948966,-4.71238898038469]},"stack":false},"text":{"field":"d","type":"nominal"}}},
{"data":{"name":"rlab"},"mark":{"type":"text","theta":0.1745},"encoding":{"x":{"datum":0,"type":"quantitative","axis":null},"y":{"datum":0,"type":"quantitative","axis":null},"radius":{"field":"r","type":"quantitative","scale":{"type":"linear","domain":[0,1.22],"range":[0,95.77]},"stack":false},"text":{"field":"t","type":"nominal"}}},
{"data":{"name":"W3"},"mark":{"type":"line","color":"#404040","strokeDash":[2,2],"strokeWidth":1,"invalid":"break-paths-filter-domains"},"encoding":{"x":{"field":"x","type":"quantitative","axis":null},"y":{"field":"y","type":"quantitative","axis":null},"order":{"field":"h","type":"quantitative"}}},
{"data":{"name":"W3"},"mark":{"type":"rule","strokeWidth":2},"encoding":{"x":{"field":"x","type":"quantitative","axis":null},"y":{"field":"y","type":"quantitative","axis":null},"x2":{"field":"x2"},"y2":{"field":"y2"},"color":{"field":"c","type":"quantitative","scale":{"type":"linear","domain":[0,2,6,10,14,16],"range":["#000080","#0000ff","#00ffff","#ffff00","#ff0000","#800000"],"interpolate":"rgb"}}}},
{"data":{"name":"W3"},"mark":{"type":"point","shape":"M-1,-0.45L0,0L-1,0.45","filled":false,"strokeWidth":2,"opacity":1},"encoding":{"x":{"field":"x2","type":"quantitative","axis":null},"y":{"field":"y2","type":"quantitative","axis":null},"angle":{"field":"dir","type":"quantitative","scale":{"domain":[0,360],"range":[360,0]}},"size":{"field":"m","type":"quantitative","scale":{"type":"pow","exponent":2,"domain":[0,1],"range":[0,2683]}},"color":{"field":"c","type":"quantitative","scale":{"type":"linear","domain":[0,2,6,10,14,16],"range":["#000080","#0000ff","#00ffff","#ffff00","#ff0000","#800000"],"interpolate":"rgb"}}}},
{"data":{"name":"W3"},"mark":{"type":"point","filled":false,"size":55,"color":"#595959","strokeWidth":1,"opacity":1},"encoding":{"x":{"field":"x","type":"quantitative","axis":null},"y":{"field":"y","type":"quantitative","axis":null}}},
{"data":{"values":[{"x":-0.042,"y":0.098,"x2":0.051,"y2":-0.081,"dir":297.5,"m":0.202}]},"mark":{"type":"rule","strokeWidth":3,"color":"#8c8c8c"},"encoding":{"x":{"field":"x","type":"quantitative","axis":null},"y":{"field":"y","type":"quantitative","axis":null},"x2":{"field":"x2"},"y2":{"field":"y2"}}},
{"data":{"values":[{"x":-0.042,"y":0.098,"x2":0.051,"y2":-0.081,"dir":297.5,"m":0.202}]},"mark":{"type":"point","shape":"M-1,-0.45L0,0L-1,0.45","filled":false,"strokeWidth":3,"color":"#8c8c8c","opacity":1},"encoding":{"x":{"field":"x2","type":"quantitative","axis":null},"y":{"field":"y2","type":"quantitative","axis":null},"angle":{"field":"dir","type":"quantitative","scale":{"domain":[0,360],"range":[360,0]}},"size":{"field":"m","type":"quantitative","scale":{"type":"pow","exponent":2,"domain":[0,1],"range":[0,2683]}}}}
]},
{"width":227,"height":56,"view":{"stroke":"#8c8c8c","strokeWidth":1.2},"data":{"name":"W4"},"layer":[{"mark":{"type":"line","color":"#a6a6a6","strokeDash":[2,2],"strokeWidth":1,"invalid":"break-paths-filter-domains"},"encoding":{"x":{"field":"h","type":"quantitative","scale":{"domain":[0,90],"nice":false,"zero":false},"axis":{"orient":"top","title":"hour","tickCount":3}},"y":{"field":"v","type":"quantitative","scale":{"domain":[0,1],"nice":false},"axis":{"values":[0,0.5,1],"format":"~g","title":"Vₛₜₑ (m s⁻¹)","titleFontSize":21,"titlePadding":28}}}},{"mark":{"type":"point","filled":true,"size":30,"opacity":1},"encoding":{"x":{"field":"h","type":"quantitative"},"y":{"field":"v","type":"quantitative"},"color":{"field":"c","type":"quantitative","scale":{"type":"linear","domain":[0,2,6,10,14,16],"range":["#000080","#0000ff","#00ffff","#ffff00","#ff0000","#800000"],"interpolate":"rgb"}}}},{"data":{"values":[{"t":"W4"}]},"mark":{"type":"text","font":"Liberation Serif","fontSize":33,"baseline":"alphabetic","color":"#000000"},"encoding":{"x":{"datum":44.1},"y":{"datum":0.39},"text":{"field":"t"}}}]},
{"width":227,"height":56,"view":{"stroke":"#8c8c8c","strokeWidth":1.2},"data":{"name":"W5"},"layer":[{"mark":{"type":"line","color":"#a6a6a6","strokeDash":[2,2],"strokeWidth":1,"invalid":"break-paths-filter-domains"},"encoding":{"x":{"field":"h","type":"quantitative","scale":{"domain":[0,60],"nice":false,"zero":false},"axis":{"orient":"top","title":"hour","tickCount":3}},"y":{"field":"v","type":"quantitative","scale":{"domain":[0,1],"nice":false},"axis":{"values":[0,0.5,1],"format":"~g","title":null}}}},{"mark":{"type":"point","filled":true,"size":30,"opacity":1},"encoding":{"x":{"field":"h","type":"quantitative"},"y":{"field":"v","type":"quantitative"},"color":{"field":"c","type":"quantitative","scale":{"type":"linear","domain":[0,2,6,10,14,16],"range":["#000080","#0000ff","#00ffff","#ffff00","#ff0000","#800000"],"interpolate":"rgb"}}}},{"data":{"values":[{"t":"W5"}]},"mark":{"type":"text","font":"Liberation Serif","fontSize":33,"baseline":"alphabetic","color":"#000000"},"encoding":{"x":{"datum":29.5},"y":{"datum":0.39},"text":{"field":"t"}}}]},
{"width":227,"height":56,"view":{"stroke":"#8c8c8c","strokeWidth":1.2},"data":{"name":"W6"},"layer":[{"mark":{"type":"line","color":"#a6a6a6","strokeDash":[2,2],"strokeWidth":1,"invalid":"break-paths-filter-domains"},"encoding":{"x":{"field":"h","type":"quantitative","scale":{"domain":[0,150],"nice":false,"zero":false},"axis":{"orient":"top","title":"hour","tickCount":3}},"y":{"field":"v","type":"quantitative","scale":{"domain":[0,1],"nice":false},"axis":{"values":[0,0.5,1],"format":"~g","title":null}}}},{"mark":{"type":"point","filled":true,"size":30,"opacity":1},"encoding":{"x":{"field":"h","type":"quantitative"},"y":{"field":"v","type":"quantitative"},"color":{"field":"c","type":"quantitative","scale":{"type":"linear","domain":[0,2,6,10,14,16],"range":["#000080","#0000ff","#00ffff","#ffff00","#ff0000","#800000"],"interpolate":"rgb"}}}},{"data":{"values":[{"t":"W6"}]},"mark":{"type":"text","font":"Liberation Serif","fontSize":33,"baseline":"alphabetic","color":"#000000"},"encoding":{"x":{"datum":73.5},"y":{"datum":0.39},"text":{"field":"t"}}}]},
{"width":227,"height":288,"layer":[
{"data":{"name":"deg"},"mark":{"type":"arc","filled":false,"color":"#dedede","strokeWidth":1},"encoding":{"x":{"datum":0,"type":"quantitative","scale":{"domain":[-1.408,1.484],"nice":false,"zero":false},"axis":null},"y":{"datum":0,"type":"quantitative","scale":{"domain":[-2.172,1.497],"nice":false,"zero":false},"axis":null},"theta":{"field":"d","type":"quantitative","scale":{"domain":[0,360],"range":[1.5707963267948966,-4.71238898038469]},"stack":false},"theta2":{"field":"d"},"radius":{"datum":1.22,"type":"quantitative","scale":{"type":"linear","domain":[0,1.22],"range":[0,95.77]},"stack":false}}},
{"data":{"name":"ring"},"mark":{"type":"arc","filled":false,"color":"#dedede","strokeWidth":1,"theta":0,"theta2":6.283185307179586},"encoding":{"x":{"datum":0,"type":"quantitative","axis":null},"y":{"datum":0,"type":"quantitative","axis":null},"radius":{"field":"r","type":"quantitative","scale":{"type":"linear","domain":[0,1.22],"range":[0,95.77]},"stack":false}}},
{"data":{"name":"deg"},"mark":{"type":"text","radius":115},"encoding":{"x":{"datum":0,"type":"quantitative","axis":null},"y":{"datum":0,"type":"quantitative","axis":null},"theta":{"field":"d","type":"quantitative","scale":{"domain":[0,360],"range":[1.5707963267948966,-4.71238898038469]},"stack":false},"text":{"field":"d","type":"nominal"}}},
{"data":{"name":"rlab"},"mark":{"type":"text","theta":0.1745},"encoding":{"x":{"datum":0,"type":"quantitative","axis":null},"y":{"datum":0,"type":"quantitative","axis":null},"radius":{"field":"r","type":"quantitative","scale":{"type":"linear","domain":[0,1.22],"range":[0,95.77]},"stack":false},"text":{"field":"t","type":"nominal"}}},
{"data":{"name":"W4"},"mark":{"type":"line","color":"#404040","strokeDash":[2,2],"strokeWidth":1,"invalid":"break-paths-filter-domains"},"encoding":{"x":{"field":"x","type":"quantitative","axis":null},"y":{"field":"y","type":"quantitative","axis":null},"order":{"field":"h","type":"quantitative"}}},
{"data":{"name":"W4"},"mark":{"type":"rule","strokeWidth":2},"encoding":{"x":{"field":"x","type":"quantitative","axis":null},"y":{"field":"y","type":"quantitative","axis":null},"x2":{"field":"x2"},"y2":{"field":"y2"},"color":{"field":"c","type":"quantitative","scale":{"type":"linear","domain":[0,2,6,10,14,16],"range":["#000080","#0000ff","#00ffff","#ffff00","#ff0000","#800000"],"interpolate":"rgb"}}}},
{"data":{"name":"W4"},"mark":{"type":"point","shape":"M-1,-0.45L0,0L-1,0.45","filled":false,"strokeWidth":2,"opacity":1},"encoding":{"x":{"field":"x2","type":"quantitative","axis":null},"y":{"field":"y2","type":"quantitative","axis":null},"angle":{"field":"dir","type":"quantitative","scale":{"domain":[0,360],"range":[360,0]}},"size":{"field":"m","type":"quantitative","scale":{"type":"pow","exponent":2,"domain":[0,1],"range":[0,2683]}},"color":{"field":"c","type":"quantitative","scale":{"type":"linear","domain":[0,2,6,10,14,16],"range":["#000080","#0000ff","#00ffff","#ffff00","#ff0000","#800000"],"interpolate":"rgb"}}}},
{"data":{"name":"W4"},"mark":{"type":"point","filled":false,"size":55,"color":"#595959","strokeWidth":1,"opacity":1},"encoding":{"x":{"field":"x","type":"quantitative","axis":null},"y":{"field":"y","type":"quantitative","axis":null}}},
{"data":{"values":[{"x":-0.042,"y":0.153,"x2":0.034,"y2":-0.123,"dir":285.4,"m":0.286}]},"mark":{"type":"rule","strokeWidth":3,"color":"#8c8c8c"},"encoding":{"x":{"field":"x","type":"quantitative","axis":null},"y":{"field":"y","type":"quantitative","axis":null},"x2":{"field":"x2"},"y2":{"field":"y2"}}},
{"data":{"values":[{"x":-0.042,"y":0.153,"x2":0.034,"y2":-0.123,"dir":285.4,"m":0.286}]},"mark":{"type":"point","shape":"M-1,-0.45L0,0L-1,0.45","filled":false,"strokeWidth":3,"color":"#8c8c8c","opacity":1},"encoding":{"x":{"field":"x2","type":"quantitative","axis":null},"y":{"field":"y2","type":"quantitative","axis":null},"angle":{"field":"dir","type":"quantitative","scale":{"domain":[0,360],"range":[360,0]}},"size":{"field":"m","type":"quantitative","scale":{"type":"pow","exponent":2,"domain":[0,1],"range":[0,2683]}}}}
]},
{"width":227,"height":288,"layer":[
{"data":{"name":"deg"},"mark":{"type":"arc","filled":false,"color":"#dedede","strokeWidth":1},"encoding":{"x":{"datum":0,"type":"quantitative","scale":{"domain":[-1.411,1.48],"nice":false,"zero":false},"axis":null},"y":{"datum":0,"type":"quantitative","scale":{"domain":[-2.172,1.497],"nice":false,"zero":false},"axis":null},"theta":{"field":"d","type":"quantitative","scale":{"domain":[0,360],"range":[1.5707963267948966,-4.71238898038469]},"stack":false},"theta2":{"field":"d"},"radius":{"datum":1.22,"type":"quantitative","scale":{"type":"linear","domain":[0,1.22],"range":[0,95.77]},"stack":false}}},
{"data":{"name":"ring"},"mark":{"type":"arc","filled":false,"color":"#dedede","strokeWidth":1,"theta":0,"theta2":6.283185307179586},"encoding":{"x":{"datum":0,"type":"quantitative","axis":null},"y":{"datum":0,"type":"quantitative","axis":null},"radius":{"field":"r","type":"quantitative","scale":{"type":"linear","domain":[0,1.22],"range":[0,95.77]},"stack":false}}},
{"data":{"name":"deg"},"mark":{"type":"text","radius":115},"encoding":{"x":{"datum":0,"type":"quantitative","axis":null},"y":{"datum":0,"type":"quantitative","axis":null},"theta":{"field":"d","type":"quantitative","scale":{"domain":[0,360],"range":[1.5707963267948966,-4.71238898038469]},"stack":false},"text":{"field":"d","type":"nominal"}}},
{"data":{"name":"rlab"},"mark":{"type":"text","theta":0.1745},"encoding":{"x":{"datum":0,"type":"quantitative","axis":null},"y":{"datum":0,"type":"quantitative","axis":null},"radius":{"field":"r","type":"quantitative","scale":{"type":"linear","domain":[0,1.22],"range":[0,95.77]},"stack":false},"text":{"field":"t","type":"nominal"}}},
{"data":{"name":"W5"},"mark":{"type":"line","color":"#404040","strokeDash":[2,2],"strokeWidth":1,"invalid":"break-paths-filter-domains"},"encoding":{"x":{"field":"x","type":"quantitative","axis":null},"y":{"field":"y","type":"quantitative","axis":null},"order":{"field":"h","type":"quantitative"}}},
{"data":{"name":"W5"},"mark":{"type":"rule","strokeWidth":2},"encoding":{"x":{"field":"x","type":"quantitative","axis":null},"y":{"field":"y","type":"quantitative","axis":null},"x2":{"field":"x2"},"y2":{"field":"y2"},"color":{"field":"c","type":"quantitative","scale":{"type":"linear","domain":[0,2,6,10,14,16],"range":["#000080","#0000ff","#00ffff","#ffff00","#ff0000","#800000"],"interpolate":"rgb"}}}},
{"data":{"name":"W5"},"mark":{"type":"point","shape":"M-1,-0.45L0,0L-1,0.45","filled":false,"strokeWidth":2,"opacity":1},"encoding":{"x":{"field":"x2","type":"quantitative","axis":null},"y":{"field":"y2","type":"quantitative","axis":null},"angle":{"field":"dir","type":"quantitative","scale":{"domain":[0,360],"range":[360,0]}},"size":{"field":"m","type":"quantitative","scale":{"type":"pow","exponent":2,"domain":[0,1],"range":[0,2683]}},"color":{"field":"c","type":"quantitative","scale":{"type":"linear","domain":[0,2,6,10,14,16],"range":["#000080","#0000ff","#00ffff","#ffff00","#ff0000","#800000"],"interpolate":"rgb"}}}},
{"data":{"name":"W5"},"mark":{"type":"point","filled":false,"size":55,"color":"#595959","strokeWidth":1,"opacity":1},"encoding":{"x":{"field":"x","type":"quantitative","axis":null},"y":{"field":"y","type":"quantitative","axis":null}}}
]},
{"width":227,"height":288,"layer":[
{"data":{"name":"deg"},"mark":{"type":"arc","filled":false,"color":"#dedede","strokeWidth":1},"encoding":{"x":{"datum":0,"type":"quantitative","scale":{"domain":[-1.353,1.539],"nice":false,"zero":false},"axis":null},"y":{"datum":0,"type":"quantitative","scale":{"domain":[-2.172,1.497],"nice":false,"zero":false},"axis":null},"theta":{"field":"d","type":"quantitative","scale":{"domain":[0,360],"range":[1.5707963267948966,-4.71238898038469]},"stack":false},"theta2":{"field":"d"},"radius":{"datum":1.22,"type":"quantitative","scale":{"type":"linear","domain":[0,1.22],"range":[0,95.77]},"stack":false}}},
{"data":{"name":"ring"},"mark":{"type":"arc","filled":false,"color":"#dedede","strokeWidth":1,"theta":0,"theta2":6.283185307179586},"encoding":{"x":{"datum":0,"type":"quantitative","axis":null},"y":{"datum":0,"type":"quantitative","axis":null},"radius":{"field":"r","type":"quantitative","scale":{"type":"linear","domain":[0,1.22],"range":[0,95.77]},"stack":false}}},
{"data":{"name":"deg"},"mark":{"type":"text","radius":115},"encoding":{"x":{"datum":0,"type":"quantitative","axis":null},"y":{"datum":0,"type":"quantitative","axis":null},"theta":{"field":"d","type":"quantitative","scale":{"domain":[0,360],"range":[1.5707963267948966,-4.71238898038469]},"stack":false},"text":{"field":"d","type":"nominal"}}},
{"data":{"name":"rlab"},"mark":{"type":"text","theta":0.1745},"encoding":{"x":{"datum":0,"type":"quantitative","axis":null},"y":{"datum":0,"type":"quantitative","axis":null},"radius":{"field":"r","type":"quantitative","scale":{"type":"linear","domain":[0,1.22],"range":[0,95.77]},"stack":false},"text":{"field":"t","type":"nominal"}}},
{"data":{"name":"W6"},"mark":{"type":"line","color":"#404040","strokeDash":[2,2],"strokeWidth":1,"invalid":"break-paths-filter-domains"},"encoding":{"x":{"field":"x","type":"quantitative","axis":null},"y":{"field":"y","type":"quantitative","axis":null},"order":{"field":"h","type":"quantitative"}}},
{"data":{"name":"W6"},"mark":{"type":"rule","strokeWidth":2},"encoding":{"x":{"field":"x","type":"quantitative","axis":null},"y":{"field":"y","type":"quantitative","axis":null},"x2":{"field":"x2"},"y2":{"field":"y2"},"color":{"field":"c","type":"quantitative","scale":{"type":"linear","domain":[0,2,6,10,14,16],"range":["#000080","#0000ff","#00ffff","#ffff00","#ff0000","#800000"],"interpolate":"rgb"}}}},
{"data":{"name":"W6"},"mark":{"type":"point","shape":"M-1,-0.45L0,0L-1,0.45","filled":false,"strokeWidth":2,"opacity":1},"encoding":{"x":{"field":"x2","type":"quantitative","axis":null},"y":{"field":"y2","type":"quantitative","axis":null},"angle":{"field":"dir","type":"quantitative","scale":{"domain":[0,360],"range":[360,0]}},"size":{"field":"m","type":"quantitative","scale":{"type":"pow","exponent":2,"domain":[0,1],"range":[0,2683]}},"color":{"field":"c","type":"quantitative","scale":{"type":"linear","domain":[0,2,6,10,14,16],"range":["#000080","#0000ff","#00ffff","#ffff00","#ff0000","#800000"],"interpolate":"rgb"}}}},
{"data":{"name":"W6"},"mark":{"type":"point","filled":false,"size":55,"color":"#595959","strokeWidth":1,"opacity":1},"encoding":{"x":{"field":"x","type":"quantitative","axis":null},"y":{"field":"y","type":"quantitative","axis":null}}},
{"data":{"values":[{"x":0,"y":0.04,"x2":-0.064,"y2":-0.055,"dir":236,"m":0.115}]},"mark":{"type":"rule","strokeWidth":3,"color":"#8c8c8c"},"encoding":{"x":{"field":"x","type":"quantitative","axis":null},"y":{"field":"y","type":"quantitative","axis":null},"x2":{"field":"x2"},"y2":{"field":"y2"}}},
{"data":{"values":[{"x":0,"y":0.04,"x2":-0.064,"y2":-0.055,"dir":236,"m":0.115}]},"mark":{"type":"point","shape":"M-1,-0.45L0,0L-1,0.45","filled":false,"strokeWidth":3,"color":"#8c8c8c","opacity":1},"encoding":{"x":{"field":"x2","type":"quantitative","axis":null},"y":{"field":"y2","type":"quantitative","axis":null},"angle":{"field":"dir","type":"quantitative","scale":{"domain":[0,360],"range":[360,0]}},"size":{"field":"m","type":"quantitative","scale":{"type":"pow","exponent":2,"domain":[0,1],"range":[0,2683]}}}}
]},
{"width":227,"height":56,"view":{"stroke":"#8c8c8c","strokeWidth":1.2},"data":{"name":"W7"},"layer":[{"mark":{"type":"line","color":"#a6a6a6","strokeDash":[2,2],"strokeWidth":1,"invalid":"break-paths-filter-domains"},"encoding":{"x":{"field":"h","type":"quantitative","scale":{"domain":[0,150],"nice":false,"zero":false},"axis":{"orient":"top","title":"hour","tickCount":3}},"y":{"field":"v","type":"quantitative","scale":{"domain":[0,1],"nice":false},"axis":{"values":[0,0.5,1],"format":"~g","title":"Vₛₜₑ (m s⁻¹)","titleFontSize":21,"titlePadding":28}}}},{"mark":{"type":"point","filled":true,"size":30,"opacity":1},"encoding":{"x":{"field":"h","type":"quantitative"},"y":{"field":"v","type":"quantitative"},"color":{"field":"c","type":"quantitative","scale":{"type":"linear","domain":[0,2,6,10,14,16],"range":["#000080","#0000ff","#00ffff","#ffff00","#ff0000","#800000"],"interpolate":"rgb"}}}},{"data":{"values":[{"t":"W7"}]},"mark":{"type":"text","font":"Liberation Serif","fontSize":33,"baseline":"alphabetic","color":"#000000"},"encoding":{"x":{"datum":66.4},"y":{"datum":0.39},"text":{"field":"t"}}}]},
{"width":227,"height":56,"view":{"stroke":"#8c8c8c","strokeWidth":1.2},"data":{"name":"W8"},"layer":[{"mark":{"type":"line","color":"#a6a6a6","strokeDash":[2,2],"strokeWidth":1,"invalid":"break-paths-filter-domains"},"encoding":{"x":{"field":"h","type":"quantitative","scale":{"domain":[0,225],"nice":false,"zero":false},"axis":{"orient":"top","title":"hour","tickCount":3}},"y":{"field":"v","type":"quantitative","scale":{"domain":[0,1],"nice":false},"axis":{"values":[0,0.5,1],"format":"~g","title":null}}}},{"mark":{"type":"point","filled":true,"size":30,"opacity":1},"encoding":{"x":{"field":"h","type":"quantitative"},"y":{"field":"v","type":"quantitative"},"color":{"field":"c","type":"quantitative","scale":{"type":"linear","domain":[0,2,6,10,14,16],"range":["#000080","#0000ff","#00ffff","#ffff00","#ff0000","#800000"],"interpolate":"rgb"}}}},{"data":{"values":[{"t":"W8"}]},"mark":{"type":"text","font":"Liberation Serif","fontSize":33,"baseline":"alphabetic","color":"#000000"},"encoding":{"x":{"datum":115.5},"y":{"datum":0.39},"text":{"field":"t"}}}]},
{"width":227,"height":56,"view":{"stroke":"#8c8c8c","strokeWidth":1.2},"data":{"name":"D1"},"layer":[{"mark":{"type":"line","color":"#a6a6a6","strokeDash":[2,2],"strokeWidth":1,"invalid":"break-paths-filter-domains"},"encoding":{"x":{"field":"h","type":"quantitative","scale":{"domain":[0,105],"nice":false,"zero":false},"axis":{"orient":"top","title":"hour","tickCount":3}},"y":{"field":"v","type":"quantitative","scale":{"domain":[0,1],"nice":false},"axis":{"values":[0,0.5,1],"format":"~g","title":null}}}},{"mark":{"type":"point","filled":true,"size":30,"opacity":1},"encoding":{"x":{"field":"h","type":"quantitative"},"y":{"field":"v","type":"quantitative"},"color":{"field":"c","type":"quantitative","scale":{"type":"linear","domain":[0,2,6,10,14,16],"range":["#000080","#0000ff","#00ffff","#ffff00","#ff0000","#800000"],"interpolate":"rgb"}}}},{"data":{"values":[{"t":"D1"}]},"mark":{"type":"text","font":"Liberation Serif","fontSize":33,"baseline":"alphabetic","color":"#000000"},"encoding":{"x":{"datum":53},"y":{"datum":0.39},"text":{"field":"t"}}}]},
{"width":227,"height":288,"layer":[
{"data":{"name":"deg"},"mark":{"type":"arc","filled":false,"color":"#dedede","strokeWidth":1},"encoding":{"x":{"datum":0,"type":"quantitative","scale":{"domain":[-1.399,1.493],"nice":false,"zero":false},"axis":null},"y":{"datum":0,"type":"quantitative","scale":{"domain":[-2.172,1.497],"nice":false,"zero":false},"axis":null},"theta":{"field":"d","type":"quantitative","scale":{"domain":[0,360],"range":[1.5707963267948966,-4.71238898038469]},"stack":false},"theta2":{"field":"d"},"radius":{"datum":1.22,"type":"quantitative","scale":{"type":"linear","domain":[0,1.22],"range":[0,95.77]},"stack":false}}},
{"data":{"name":"ring"},"mark":{"type":"arc","filled":false,"color":"#dedede","strokeWidth":1,"theta":0,"theta2":6.283185307179586},"encoding":{"x":{"datum":0,"type":"quantitative","axis":null},"y":{"datum":0,"type":"quantitative","axis":null},"radius":{"field":"r","type":"quantitative","scale":{"type":"linear","domain":[0,1.22],"range":[0,95.77]},"stack":false}}},
{"data":{"name":"deg"},"mark":{"type":"text","radius":115},"encoding":{"x":{"datum":0,"type":"quantitative","axis":null},"y":{"datum":0,"type":"quantitative","axis":null},"theta":{"field":"d","type":"quantitative","scale":{"domain":[0,360],"range":[1.5707963267948966,-4.71238898038469]},"stack":false},"text":{"field":"d","type":"nominal"}}},
{"data":{"name":"rlab"},"mark":{"type":"text","theta":0.1745},"encoding":{"x":{"datum":0,"type":"quantitative","axis":null},"y":{"datum":0,"type":"quantitative","axis":null},"radius":{"field":"r","type":"quantitative","scale":{"type":"linear","domain":[0,1.22],"range":[0,95.77]},"stack":false},"text":{"field":"t","type":"nominal"}}},
{"data":{"name":"W7"},"mark":{"type":"line","color":"#404040","strokeDash":[2,2],"strokeWidth":1,"invalid":"break-paths-filter-domains"},"encoding":{"x":{"field":"x","type":"quantitative","axis":null},"y":{"field":"y","type":"quantitative","axis":null},"order":{"field":"h","type":"quantitative"}}},
{"data":{"name":"W7"},"mark":{"type":"rule","strokeWidth":2},"encoding":{"x":{"field":"x","type":"quantitative","axis":null},"y":{"field":"y","type":"quantitative","axis":null},"x2":{"field":"x2"},"y2":{"field":"y2"},"color":{"field":"c","type":"quantitative","scale":{"type":"linear","domain":[0,2,6,10,14,16],"range":["#000080","#0000ff","#00ffff","#ffff00","#ff0000","#800000"],"interpolate":"rgb"}}}},
{"data":{"name":"W7"},"mark":{"type":"point","shape":"M-1,-0.45L0,0L-1,0.45","filled":false,"strokeWidth":2,"opacity":1},"encoding":{"x":{"field":"x2","type":"quantitative","axis":null},"y":{"field":"y2","type":"quantitative","axis":null},"angle":{"field":"dir","type":"quantitative","scale":{"domain":[0,360],"range":[360,0]}},"size":{"field":"m","type":"quantitative","scale":{"type":"pow","exponent":2,"domain":[0,1],"range":[0,2683]}},"color":{"field":"c","type":"quantitative","scale":{"type":"linear","domain":[0,2,6,10,14,16],"range":["#000080","#0000ff","#00ffff","#ffff00","#ff0000","#800000"],"interpolate":"rgb"}}}},
{"data":{"name":"W7"},"mark":{"type":"point","filled":false,"size":55,"color":"#595959","strokeWidth":1,"opacity":1},"encoding":{"x":{"field":"x","type":"quantitative","axis":null},"y":{"field":"y","type":"quantitative","axis":null}}},
{"data":{"values":[{"x":0,"y":0.05,"x2":0.005,"y2":-0.06,"dir":275,"m":0.11}]},"mark":{"type":"rule","strokeWidth":3,"color":"#8c8c8c"},"encoding":{"x":{"field":"x","type":"quantitative","axis":null},"y":{"field":"y","type":"quantitative","axis":null},"x2":{"field":"x2"},"y2":{"field":"y2"}}},
{"data":{"values":[{"x":0,"y":0.05,"x2":0.005,"y2":-0.06,"dir":275,"m":0.11}]},"mark":{"type":"point","shape":"M-1,-0.45L0,0L-1,0.45","filled":false,"strokeWidth":3,"color":"#8c8c8c","opacity":1},"encoding":{"x":{"field":"x2","type":"quantitative","axis":null},"y":{"field":"y2","type":"quantitative","axis":null},"angle":{"field":"dir","type":"quantitative","scale":{"domain":[0,360],"range":[360,0]}},"size":{"field":"m","type":"quantitative","scale":{"type":"pow","exponent":2,"domain":[0,1],"range":[0,2683]}}}}
]},
{"width":227,"height":288,"layer":[
{"data":{"name":"deg"},"mark":{"type":"arc","filled":false,"color":"#dedede","strokeWidth":1},"encoding":{"x":{"datum":0,"type":"quantitative","scale":{"domain":[-1.497,1.395],"nice":false,"zero":false},"axis":null},"y":{"datum":0,"type":"quantitative","scale":{"domain":[-2.172,1.497],"nice":false,"zero":false},"axis":null},"theta":{"field":"d","type":"quantitative","scale":{"domain":[0,360],"range":[1.5707963267948966,-4.71238898038469]},"stack":false},"theta2":{"field":"d"},"radius":{"datum":1.22,"type":"quantitative","scale":{"type":"linear","domain":[0,1.22],"range":[0,95.77]},"stack":false}}},
{"data":{"name":"ring"},"mark":{"type":"arc","filled":false,"color":"#dedede","strokeWidth":1,"theta":0,"theta2":6.283185307179586},"encoding":{"x":{"datum":0,"type":"quantitative","axis":null},"y":{"datum":0,"type":"quantitative","axis":null},"radius":{"field":"r","type":"quantitative","scale":{"type":"linear","domain":[0,1.22],"range":[0,95.77]},"stack":false}}},
{"data":{"name":"deg"},"mark":{"type":"text","radius":115},"encoding":{"x":{"datum":0,"type":"quantitative","axis":null},"y":{"datum":0,"type":"quantitative","axis":null},"theta":{"field":"d","type":"quantitative","scale":{"domain":[0,360],"range":[1.5707963267948966,-4.71238898038469]},"stack":false},"text":{"field":"d","type":"nominal"}}},
{"data":{"name":"rlab"},"mark":{"type":"text","theta":0.1745},"encoding":{"x":{"datum":0,"type":"quantitative","axis":null},"y":{"datum":0,"type":"quantitative","axis":null},"radius":{"field":"r","type":"quantitative","scale":{"type":"linear","domain":[0,1.22],"range":[0,95.77]},"stack":false},"text":{"field":"t","type":"nominal"}}},
{"data":{"name":"W8"},"mark":{"type":"line","color":"#404040","strokeDash":[2,2],"strokeWidth":1,"invalid":"break-paths-filter-domains"},"encoding":{"x":{"field":"x","type":"quantitative","axis":null},"y":{"field":"y","type":"quantitative","axis":null},"order":{"field":"h","type":"quantitative"}}},
{"data":{"name":"W8"},"mark":{"type":"rule","strokeWidth":2},"encoding":{"x":{"field":"x","type":"quantitative","axis":null},"y":{"field":"y","type":"quantitative","axis":null},"x2":{"field":"x2"},"y2":{"field":"y2"},"color":{"field":"c","type":"quantitative","scale":{"type":"linear","domain":[0,2,6,10,14,16],"range":["#000080","#0000ff","#00ffff","#ffff00","#ff0000","#800000"],"interpolate":"rgb"}}}},
{"data":{"name":"W8"},"mark":{"type":"point","shape":"M-1,-0.45L0,0L-1,0.45","filled":false,"strokeWidth":2,"opacity":1},"encoding":{"x":{"field":"x2","type":"quantitative","axis":null},"y":{"field":"y2","type":"quantitative","axis":null},"angle":{"field":"dir","type":"quantitative","scale":{"domain":[0,360],"range":[360,0]}},"size":{"field":"m","type":"quantitative","scale":{"type":"pow","exponent":2,"domain":[0,1],"range":[0,2683]}},"color":{"field":"c","type":"quantitative","scale":{"type":"linear","domain":[0,2,6,10,14,16],"range":["#000080","#0000ff","#00ffff","#ffff00","#ff0000","#800000"],"interpolate":"rgb"}}}},
{"data":{"name":"W8"},"mark":{"type":"point","filled":false,"size":55,"color":"#595959","strokeWidth":1,"opacity":1},"encoding":{"x":{"field":"x","type":"quantitative","axis":null},"y":{"field":"y","type":"quantitative","axis":null}}}
]},
{"width":227,"height":288,"layer":[
{"data":{"name":"deg"},"mark":{"type":"arc","filled":false,"color":"#dedede","strokeWidth":1},"encoding":{"x":{"datum":0,"type":"quantitative","scale":{"domain":[-1.493,1.399],"nice":false,"zero":false},"axis":null},"y":{"datum":0,"type":"quantitative","scale":{"domain":[-2.172,1.497],"nice":false,"zero":false},"axis":null},"theta":{"field":"d","type":"quantitative","scale":{"domain":[0,360],"range":[1.5707963267948966,-4.71238898038469]},"stack":false},"theta2":{"field":"d"},"radius":{"datum":1.22,"type":"quantitative","scale":{"type":"linear","domain":[0,1.22],"range":[0,95.77]},"stack":false}}},
{"data":{"name":"ring"},"mark":{"type":"arc","filled":false,"color":"#dedede","strokeWidth":1,"theta":0,"theta2":6.283185307179586},"encoding":{"x":{"datum":0,"type":"quantitative","axis":null},"y":{"datum":0,"type":"quantitative","axis":null},"radius":{"field":"r","type":"quantitative","scale":{"type":"linear","domain":[0,1.22],"range":[0,95.77]},"stack":false}}},
{"data":{"name":"deg"},"mark":{"type":"text","radius":115},"encoding":{"x":{"datum":0,"type":"quantitative","axis":null},"y":{"datum":0,"type":"quantitative","axis":null},"theta":{"field":"d","type":"quantitative","scale":{"domain":[0,360],"range":[1.5707963267948966,-4.71238898038469]},"stack":false},"text":{"field":"d","type":"nominal"}}},
{"data":{"name":"rlab"},"mark":{"type":"text","theta":0.1745},"encoding":{"x":{"datum":0,"type":"quantitative","axis":null},"y":{"datum":0,"type":"quantitative","axis":null},"radius":{"field":"r","type":"quantitative","scale":{"type":"linear","domain":[0,1.22],"range":[0,95.77]},"stack":false},"text":{"field":"t","type":"nominal"}}},
{"data":{"name":"D1"},"mark":{"type":"line","color":"#404040","strokeDash":[2,2],"strokeWidth":1,"invalid":"break-paths-filter-domains"},"encoding":{"x":{"field":"x","type":"quantitative","axis":null},"y":{"field":"y","type":"quantitative","axis":null},"order":{"field":"h","type":"quantitative"}}},
{"data":{"name":"D1"},"mark":{"type":"rule","strokeWidth":2},"encoding":{"x":{"field":"x","type":"quantitative","axis":null},"y":{"field":"y","type":"quantitative","axis":null},"x2":{"field":"x2"},"y2":{"field":"y2"},"color":{"field":"c","type":"quantitative","scale":{"type":"linear","domain":[0,2,6,10,14,16],"range":["#000080","#0000ff","#00ffff","#ffff00","#ff0000","#800000"],"interpolate":"rgb"}}}},
{"data":{"name":"D1"},"mark":{"type":"point","shape":"M-1,-0.45L0,0L-1,0.45","filled":false,"strokeWidth":2,"opacity":1},"encoding":{"x":{"field":"x2","type":"quantitative","axis":null},"y":{"field":"y2","type":"quantitative","axis":null},"angle":{"field":"dir","type":"quantitative","scale":{"domain":[0,360],"range":[360,0]}},"size":{"field":"m","type":"quantitative","scale":{"type":"pow","exponent":2,"domain":[0,1],"range":[0,2683]}},"color":{"field":"c","type":"quantitative","scale":{"type":"linear","domain":[0,2,6,10,14,16],"range":["#000080","#0000ff","#00ffff","#ffff00","#ff0000","#800000"],"interpolate":"rgb"}}}},
{"data":{"name":"D1"},"mark":{"type":"point","filled":false,"size":55,"color":"#595959","strokeWidth":1,"opacity":1},"encoding":{"x":{"field":"x","type":"quantitative","axis":null},"y":{"field":"y","type":"quantitative","axis":null}}}
]}
]
}
